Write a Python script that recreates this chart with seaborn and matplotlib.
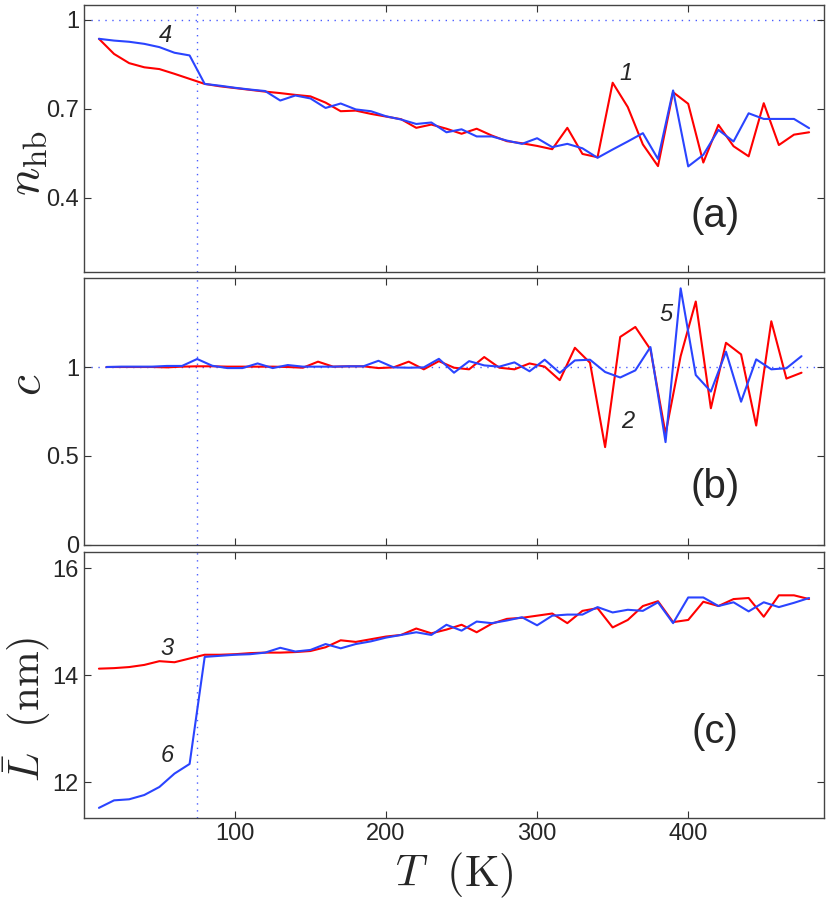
import numpy as np
import pandas as pd
import matplotlib
matplotlib.use("Agg")
import matplotlib.pyplot as plt
import seaborn as sns

# temperatures (K)
T = list(range(10, 490, 10))          # panels (a) and (c)
T_mid = list(range(15, 480, 10))      # panel (b), midpoints

# (a) fraction of hydrogen bonds
nhb_red = [0.936, 0.885, 0.854, 0.840, 0.834, 0.818, 0.801, 0.784, 0.776, 0.770,
           0.764, 0.758, 0.753, 0.747, 0.742, 0.721, 0.692, 0.694, 0.683, 0.674,
           0.665, 0.636, 0.647, 0.633, 0.616, 0.633, 0.610, 0.591, 0.584, 0.575,
           0.564, 0.636, 0.548, 0.537, 0.788, 0.706, 0.580, 0.507, 0.756, 0.717,
           0.519, 0.646, 0.574, 0.540, 0.719, 0.578, 0.613, 0.621]
nhb_blue = [0.936, 0.930, 0.926, 0.919, 0.908, 0.889, 0.880, 0.784, 0.778, 0.771,
            0.765, 0.760, 0.728, 0.745, 0.735, 0.703, 0.718, 0.698, 0.692, 0.675,
            0.664, 0.649, 0.654, 0.621, 0.631, 0.607, 0.607, 0.593, 0.582, 0.601,
            0.571, 0.582, 0.567, 0.535, 0.563, 0.590, 0.618, 0.531, 0.762, 0.506,
            0.545, 0.629, 0.590, 0.685, 0.666, 0.666, 0.666, 0.635]

# (b) c
c_red = [1.000, 1.000, 1.000, 1.000, 0.998, 1.002, 1.004, 1.004, 1.002, 1.002,
         1.002, 1.002, 1.000, 0.996, 1.030, 1.002, 1.004, 1.004, 0.994, 0.998,
         1.030, 0.987, 1.033, 0.996, 0.987, 1.056, 0.996, 0.987, 1.020, 1.002,
         0.926, 1.108, 1.024, 0.550, 1.169, 1.225, 1.099, 0.625, 1.061, 1.368,
         0.768, 1.136, 1.071, 0.671, 1.257, 0.935, 0.968]
c_blue = [1.000, 1.002, 1.002, 1.002, 1.006, 1.006, 1.045, 1.007, 0.994, 0.994,
          1.020, 0.994, 1.011, 1.002, 1.002, 1.002, 1.004, 1.004, 1.035, 0.998,
          0.996, 0.998, 1.046, 0.968, 1.033, 1.009, 1.002, 1.026, 0.976, 1.041,
          0.967, 1.037, 1.041, 0.972, 0.941, 0.981, 1.112, 0.578, 1.442, 0.955,
          0.862, 1.086, 0.805, 1.043, 0.987, 0.993, 1.061]

# (c) mean length (nm)
L_red = [14.12, 14.13, 14.15, 14.19, 14.26, 14.24, 14.31, 14.38, 14.38, 14.39,
         14.41, 14.42, 14.42, 14.43, 14.45, 14.52, 14.65, 14.62, 14.67, 14.72,
         14.75, 14.87, 14.78, 14.85, 14.94, 14.80, 14.96, 15.05, 15.07, 15.11,
         15.15, 14.97, 15.20, 15.25, 14.89, 15.03, 15.29, 15.38, 14.99, 15.03,
         15.37, 15.29, 15.42, 15.44, 15.09, 15.49, 15.49, 15.42]
L_blue = [11.52, 11.66, 11.68, 11.76, 11.91, 12.16, 12.34, 14.34, 14.36, 14.38,
          14.39, 14.42, 14.51, 14.44, 14.47, 14.58, 14.50, 14.58, 14.63, 14.70,
          14.75, 14.80, 14.75, 14.94, 14.83, 15.00, 14.97, 15.02, 15.08, 14.93,
          15.11, 15.13, 15.13, 15.27, 15.17, 15.22, 15.20, 15.36, 14.97, 15.45,
          15.45, 15.29, 15.36, 15.19, 15.36, 15.27, 15.35, 15.44]

T_c = 75
RED = "#ff0000"
BLUE = "#2a44ff"
DOT = "#4a5cff"

sns.set_style("ticks")
plt.rcParams["font.family"] = ["Liberation Sans", "DejaVu Sans"]
plt.rcParams["mathtext.fontset"] = "cm"
plt.rcParams["xtick.direction"] = "in"
plt.rcParams["ytick.direction"] = "in"

fig = plt.figure(figsize=(8.3, 9.05), dpi=100)
left, width = 0.101, 0.892
ax_a = fig.add_axes([left, 0.6994, width, 0.2951])
ax_b = fig.add_axes([left, 0.3978, width, 0.2950])
ax_c = fig.add_axes([left, 0.0961, width, 0.2940])

df_a = pd.DataFrame({"T": T, "red": nhb_red, "blue": nhb_blue})
df_b = pd.DataFrame({"T": T_mid, "red": c_red, "blue": c_blue})
df_c = pd.DataFrame({"T": T, "red": L_red, "blue": L_blue})

for ax, df in [(ax_a, df_a), (ax_b, df_b), (ax_c, df_c)]:
    sns.lineplot(data=df, x="T", y="red", color=RED, lw=1.5, ax=ax)
    sns.lineplot(data=df, x="T", y="blue", color=BLUE, lw=1.5, ax=ax)
    ax.axvline(T_c, color=DOT, lw=1.0, ls=(0, (1, 4)), zorder=0)
    ax.set_xlim(0, 490)
    ax.set_xticks([100, 200, 300, 400])
    ax.tick_params(top=True, right=True, labelsize=17, length=5, width=0.8, color="#333333")
    for s in ax.spines.values():
        s.set_color("#444444")
        s.set_linewidth(1.0)
    ax.set_xlabel("")

for ax in (ax_a, ax_b):
    ax.axhline(1, color=DOT, lw=1.0, ls=(0, (1, 4)), zorder=0)
    ax.tick_params(labelbottom=False)

ax_a.set_ylim(0.15, 1.05)
ax_a.set_yticks([0.4, 0.7, 1])
ax_a.set_yticklabels(["0.4", "0.7", "1"])
ax_a.set_ylabel(r"$n_{\rm hb}$", fontsize=34)

ax_b.set_ylim(0, 1.5)
ax_b.set_yticks([0, 0.5, 1])
ax_b.set_yticklabels(["0", "0.5", "1"])
ax_b.set_ylabel(r"$c$", fontsize=34)

ax_c.set_ylim(11.33, 16.3)
ax_c.set_yticks([12, 14, 16])
ax_c.set_ylabel(r"$\bar{L}\ \ (\rm nm)$", fontsize=31)
ax_c.set_xlabel(r"$T\ \ (\rm K)$", fontsize=32, labelpad=4)

# put the y labels where the reference has them
ax_a.yaxis.set_label_coords(-0.077, 0.41)
ax_b.yaxis.set_label_coords(-0.075, 0.60)
ax_c.yaxis.set_label_coords(-0.077, 0.41)
for ax in (ax_a, ax_b, ax_c):
    ax.yaxis.label.set_va("center")

# curve numbers
note = dict(fontsize=17, style="italic", ha="center", va="center")
ax_a.text(54, 0.947, "4", **note)
ax_a.text(359, 0.819, "1", **note)
ax_b.text(360, 0.695, "2", **note)
ax_b.text(385, 1.294, "5", **note)
ax_c.text(55, 14.49, "3", **note)
ax_c.text(55, 12.49, "6", **note)

# panel tags
ax_a.text(418, 0.34, "(a)", fontsize=29, ha="center", va="center")
ax_b.text(418, 0.327, "(b)", fontsize=29, ha="center", va="center")
ax_c.text(418, 12.94, "(c)", fontsize=29, ha="center", va="center")

fig.savefig("out.png", dpi=100)
